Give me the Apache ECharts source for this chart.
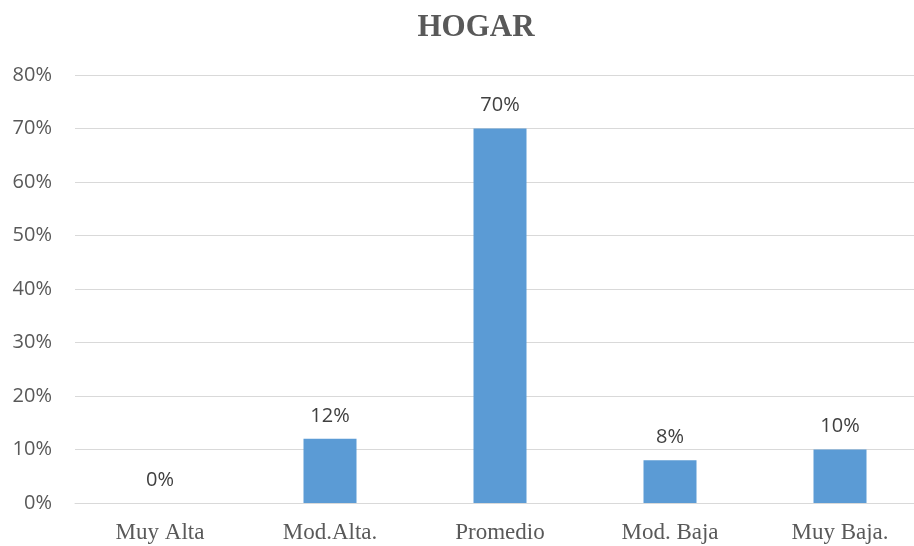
<!DOCTYPE html>
<html>
<head>
<meta charset="utf-8">
<script src="https://cdn.jsdelivr.net/npm/echarts@6/dist/echarts.min.js"></script>
<style>
  html, body { margin: 0; padding: 0; background: #fff; }
  #chart { width: 914px; height: 546px; }
</style>
</head>
<body>
<div id="chart"></div>
<script>
// categorias y valores (%)
const categories = ['Muy Alta', 'Mod.Alta.', 'Promedio', 'Mod. Baja', 'Muy Baja.']
const values = [0, 12, 70, 8, 10]
const yTicks = [0, 10, 20, 30, 40, 50, 60, 70, 80]

const chart = echarts.init(document.getElementById('chart'))
chart.setOption({
  animation: false,
  title: {
    text: 'HOGAR',
    left: 471,
    top: 7,
    textAlign: 'center',
    textStyle: { fontFamily: 'Liberation Serif', fontWeight: 'bold', fontSize: 31, color: '#595959' }
  },
  grid: { left: 75, top: 75, width: 850, height: 428, outerBoundsMode: 'none' },
  xAxis: {
    type: 'category',
    data: categories,
    axisLine: { lineStyle: { color: '#d9d9d9', width: 1 } },
    axisTick: { show: false },
    axisLabel: { fontFamily: 'Liberation Serif', fontSize: 23, color: '#595959', margin: 18 }
  },
  yAxis: {
    type: 'value',
    min: yTicks[0],
    max: yTicks[yTicks.length - 1],
    interval: 10,
    axisLine: { show: false },
    axisTick: { show: false },
    splitLine: { lineStyle: { color: '#d9d9d9', width: 1 } },
    axisLabel: { formatter: '{value}%', fontFamily: 'Open Sans', fontSize: 20, color: '#595959', margin: 23 }
  },
  series: [{
    type: 'bar',
    data: values,
    barWidth: 53,
    itemStyle: { color: '#5b9bd5' },
    label: {
      show: true,
      position: 'top',
      distance: 13,
      formatter: '{c}%',
      fontFamily: 'Open Sans',
      fontSize: 20,
      color: '#404040'
    }
  }]
})
</script>
</body>
</html>
